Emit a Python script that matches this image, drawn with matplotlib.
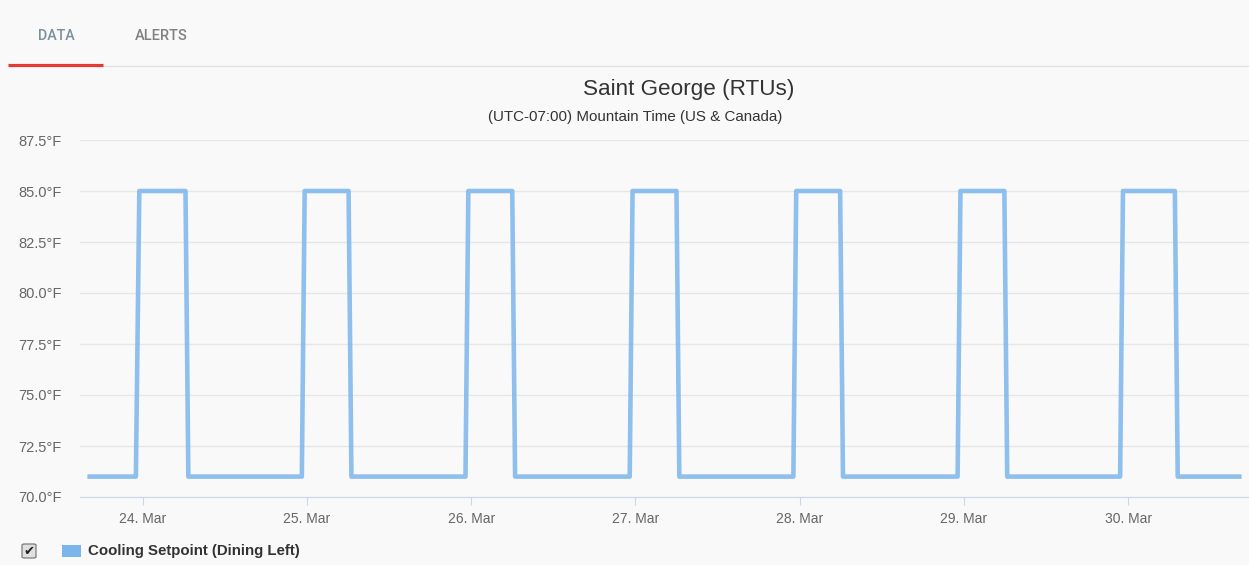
import matplotlib
matplotlib.use("Agg")
import matplotlib.pyplot as plt
import matplotlib.dates as mdates
from matplotlib.patches import Rectangle, FancyBboxPatch
import pandas as pd

# setpoint change points
times = [
    "2019-03-23 16:15",
    "2019-03-23 23:00", "2019-03-23 23:30", "2019-03-24 06:15", "2019-03-24 06:40",
    "2019-03-24 23:15", "2019-03-24 23:40", "2019-03-25 06:05", "2019-03-25 06:30",
    "2019-03-25 23:10", "2019-03-25 23:35", "2019-03-26 06:00", "2019-03-26 06:25",
    "2019-03-26 23:10", "2019-03-26 23:35", "2019-03-27 06:00", "2019-03-27 06:25",
    "2019-03-27 23:05", "2019-03-27 23:30", "2019-03-28 05:55", "2019-03-28 06:20",
    "2019-03-28 23:05", "2019-03-28 23:30", "2019-03-29 05:55", "2019-03-29 06:20",
    "2019-03-29 22:50", "2019-03-29 23:15", "2019-03-30 06:50", "2019-03-30 07:15",
    "2019-03-30 16:15",
]
values = [
    71,
    71, 85, 85, 71,
    71, 85, 85, 71,
    71, 85, 85, 71,
    71, 85, 85, 71,
    71, 85, 85, 71,
    71, 85, 85, 71,
    71, 85, 85, 71,
    71,
]
y_ticks = [70.0, 72.5, 75.0, 77.5, 80.0, 82.5, 85.0, 87.5]

t = pd.to_datetime(times)
W, H = 1249, 565
bg = '#f9f9f9'

def px(x, y):
    return x / W, 1 - y / H

fig = plt.figure(figsize=(W / 100, H / 100), dpi=100, facecolor=bg)

# tab header
fig.text(*px(56, 36), 'DATA', family='Roboto', weight='medium', fontsize=10.3,
         color='#78909c', ha='center', va='center')
fig.text(*px(161, 36), 'ALERTS', family='Roboto', weight='medium', fontsize=10.5,
         color='#808080', ha='center', va='center')
fig.add_artist(plt.Line2D([103 / W, 1], [1 - 66 / H] * 2, color='#e0e0e0', lw=1))
fig.add_artist(plt.Line2D([8 / W, 103 / W], [1 - 64.5 / H] * 2, color='#e53935', lw=2.3,
                          solid_capstyle='butt'))

# titles
fig.text(*px(689, 90), 'Saint George (RTUs)', family='Liberation Sans', fontsize=16.2,
         color='#333333', ha='center', va='center')
fig.text(*px(635, 117), '(UTC-07:00) Mountain Time (US & Canada)', family='Liberation Sans',
         fontsize=10.9, color='#333333', ha='center', va='center')

ax = fig.add_axes([80 / W, 1 - 497 / H, (1249 - 80) / W, (497 - 140) / H])
ax.set_facecolor(bg)
ax.plot(t, values, color='#7cb5ec', lw=3.3, alpha=0.85)

ax.set_ylim(70, 87.5)
ax.set_yticks(y_ticks)
ax.set_yticklabels([f'{v:.1f}°F' for v in y_ticks])
ax.set_xlim(pd.Timestamp("2019-03-23 14:50"), pd.Timestamp("2019-03-30 17:40"))
ax.xaxis.set_major_locator(mdates.DayLocator())
ax.xaxis.set_major_formatter(mdates.DateFormatter('%d. %b'))

ax.grid(axis='y', color='#e6e6e6', lw=1)
ax.set_axisbelow(True)
for s in ['top', 'right', 'left']:
    ax.spines[s].set_visible(False)
ax.spines['bottom'].set_color('#ccd6eb')
ax.tick_params(axis='x', length=6, color='#ccd6eb', labelsize=10, labelcolor='#666666', pad=5)
ax.tick_params(axis='y', length=0, pad=13, labelsize=10.5, labelcolor='#666666')
for lab in ax.get_xticklabels() + ax.get_yticklabels():
    lab.set_family('Liberation Sans')

# legend row
fig.add_artist(FancyBboxPatch(px(22, 558), 14 / W, 14 / H, boxstyle='round,pad=0,rounding_size=0.002',
                              facecolor='#e0e0e0', edgecolor='#7a7a7a', lw=0.9))
fig.text(*px(29, 551), '✔', family='DejaVu Sans', fontsize=9.5, color='#222222',
         ha='center', va='center')
fig.add_artist(Rectangle(px(62, 557), 19 / W, 12 / H, facecolor='#7cb5ec', edgecolor='none'))
fig.text(*px(88, 551), 'Cooling Setpoint (Dining Left)', family='Liberation Sans',
         weight='bold', fontsize=10.8, color='#333333', ha='left', va='center')

fig.savefig('out.png', dpi=100, facecolor=bg)
